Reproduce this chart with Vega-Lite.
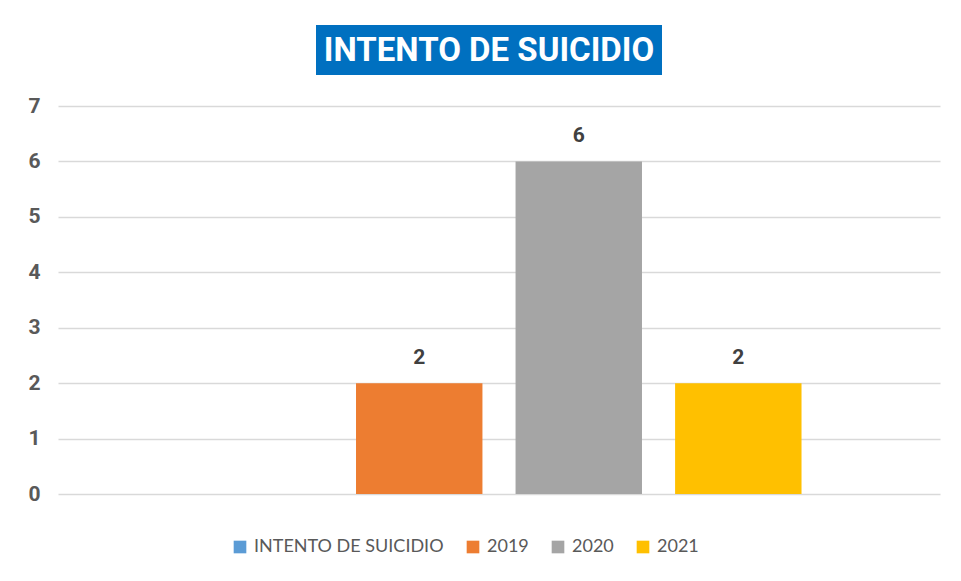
{
  "$schema": "https://vega.github.io/schema/vega-lite/v6.json",
  "background": "white",
  "padding": {"left": 27, "top": 25, "right": 21, "bottom": 10},
  "config": {
    "font": "Roboto",
    "view": {"stroke": null}
  },
  "spacing": 20,
  "vconcat": [
    {
      "spacing": 0,
      "hconcat": [
        {
          "width": 258,
          "height": 50,
          "data": {"values": []},
          "mark": {"type": "text"},
          "encoding": {}
        },
        {
          "width": 346,
          "height": 50,
          "view": {"fill": "#0070C0", "stroke": null},
          "data": {"values": [{"t": "INTENTO DE SUICIDIO"}]},
          "mark": {"type": "text", "font": "Roboto", "fontWeight": "bold", "fontSize": 33, "color": "white", "align": "center", "baseline": "middle", "dy": 1},
          "encoding": {"text": {"field": "t"}}
        }
      ]
    },
    {
      "width": 882,
      "height": 388,
      "data": {"values": [
        {"series": "INTENTO DE SUICIDIO", "value": null},
        {"series": "2019", "value": 2},
        {"series": "2020", "value": 6},
        {"series": "2021", "value": 2}
      ]},
      "encoding": {
        "x": {"field": "series", "type": "nominal", "axis": null,
              "scale": {"domain": ["INTENTO DE SUICIDIO", "2019", "2020", "2021"], "paddingInner": 0.2075, "paddingOuter": 0.868}},
        "y": {"field": "value", "type": "quantitative",
              "scale": {"domain": [0, 7], "nice": false},
              "axis": {"title": null, "values": [0,1,2,3,4,5,6,7], "domain": false, "ticks": false, "labelPadding": 18,
                       "labelFont": "Roboto", "labelFontWeight": "bold", "labelFontSize": 21, "labelColor": "#595959",
                       "gridColor": "#D9D9D9", "gridWidth": 1.5}}
      },
      "layer": [
        {
          "mark": {"type": "bar"},
          "encoding": {
            "color": {"field": "series", "type": "nominal",
                      "scale": {"domain": ["INTENTO DE SUICIDIO", "2019", "2020", "2021"], "range": ["#5B9BD5", "#ED7D31", "#A5A5A5", "#FFC000"]},
                      "legend": {"title": null, "orient": "none", "direction": "horizontal", "legendX": 173, "legendY": 513,
                                 "symbolType": "square", "symbolSize": 160, "symbolStrokeWidth": 0, "symbolOpacity": 1,
                                 "labelFont": "Lato", "labelFontSize": 18, "labelColor": "#595959",
                                 "labelOffset": 5, "columnPadding": 20, "labelLimit": 400}}
          }
        },
        {
          "transform": [{"filter": "datum.value > 0"}],
          "mark": {"type": "text", "dy": -25, "font": "Roboto", "fontWeight": "bold", "fontSize": 21, "color": "#404040", "baseline": "middle"},
          "encoding": {"text": {"field": "value", "type": "quantitative"}}
        }
      ]
    }
  ]
}
